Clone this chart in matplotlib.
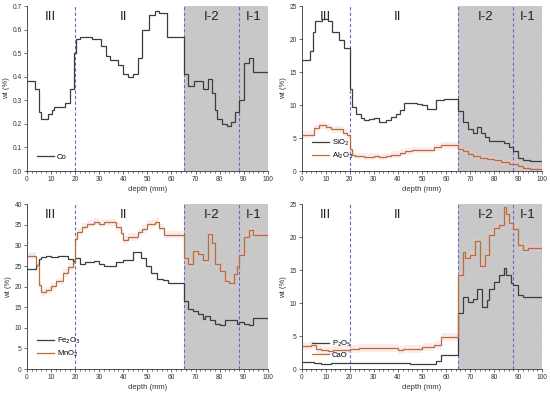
import numpy as np
import matplotlib
matplotlib.use('Agg')
import matplotlib.pyplot as plt

plt.rcParams['font.family'] = ['Liberation Sans', 'DejaVu Sans']

# step edges (depth, mm) and values (wt %)
co_edges = [0, 3.5, 5, 6, 9, 10.5, 11.5, 16, 18, 19.5, 20.5, 22, 27, 31, 33, 34.5, 38, 40, 42, 44,
            46, 48, 50.5, 53, 55, 58, 65, 67, 69.5, 73, 75, 77, 78, 79, 81, 83, 84.5, 86.5, 88, 90,
            92, 94, 100]
co_vals = [0.38, 0.35, 0.25, 0.22, 0.24, 0.26, 0.27, 0.29, 0.35, 0.50, 0.56, 0.57, 0.56, 0.53, 0.49,
           0.47, 0.45, 0.41, 0.40, 0.41, 0.48, 0.60, 0.66, 0.68, 0.67, 0.57, 0.41, 0.36, 0.38, 0.35,
           0.39, 0.33, 0.26, 0.22, 0.20, 0.19, 0.21, 0.25, 0.30, 0.46, 0.48, 0.42]

sio2_edges = [0, 3.3, 4.6, 5.5, 8.3, 11, 12.5, 15.6, 17.6, 20, 21, 22.5, 24.5, 26, 28, 30, 32, 35, 37,
              39, 41, 42.5, 48, 50, 52, 56, 59, 65, 67, 69, 71, 73, 74.5, 76, 78, 80, 84, 86, 88, 90,
              92, 95, 100]
sio2_vals = [16.9, 18.2, 21.0, 22.7, 23.0, 22.8, 21.0, 19.9, 18.6, 12.4, 9.7, 8.7, 8.1, 7.7, 7.9, 8.1,
             7.5, 7.7, 8.2, 8.6, 9.3, 10.3, 10.1, 10.0, 9.4, 10.7, 10.9, 9.1, 7.5, 6.3, 5.8, 6.6, 5.7,
             5.2, 4.6, 4.5, 4.2, 3.7, 3.0, 2.0, 1.6, 1.5]

al2o3_edges = [0, 5, 7, 10, 12, 17, 19, 20, 21, 22, 26, 30, 32, 35, 37, 41, 43, 46, 55, 58, 65, 67, 69,
               71, 74, 77, 80, 83, 86, 88, 90, 92, 95, 100]
al2o3_vals = [5.5, 6.5, 6.9, 6.6, 6.3, 5.8, 5.4, 3.4, 2.5, 2.3, 2.2, 2.3, 2.1, 2.3, 2.5, 2.8, 3.0, 3.2,
              3.6, 3.9, 3.4, 3.0, 2.6, 2.3, 2.0, 1.8, 1.6, 1.3, 1.1, 1.0, 0.7, 0.4, 0.3]

fe2o3_edges = [0, 4, 5, 6, 8, 10, 13, 17, 19, 20, 22, 24, 28, 30, 32, 37, 40, 44, 47.5, 49.5, 51.5, 54,
               56.5, 58.5, 65, 67, 69, 71, 73, 74, 76, 78, 80, 82, 87, 88, 90, 92, 94, 100]
fe2o3_vals = [24.3, 25.3, 26.8, 27.1, 27.5, 27.2, 27.5, 26.8, 26.2, 27.0, 25.5, 25.9, 26.2, 25.5, 24.9,
              26.0, 26.4, 28.4, 27.0, 25.1, 23.4, 21.8, 21.5, 20.8, 16.5, 14.6, 14.2, 13.3, 12.1, 12.8,
              12.0, 11.0, 10.6, 11.9, 11.0, 11.3, 10.9, 10.6, 12.4]

mno2_edges = [0, 4, 5, 6, 8, 10, 12, 15, 17, 19, 20, 21, 23, 25, 28, 30, 32, 37, 39, 40, 42, 46, 48, 50,
              53, 55, 57, 65, 67, 69, 71, 73, 75, 77, 78, 80, 82, 84, 86, 87, 88, 90, 92, 94, 100]
mno2_vals = [27.5, 25.2, 20.5, 18.6, 19.1, 20.1, 21.3, 23.3, 24.8, 26.0, 31.6, 33.3, 34.6, 35.3, 35.8,
             35.3, 35.6, 34.5, 33.1, 31.3, 32.1, 33.2, 34.0, 35.3, 35.8, 34.3, 32.6, 27.0, 25.4, 28.7,
             28.0, 26.4, 32.8, 30.6, 25.6, 23.8, 21.4, 20.9, 23.0, 25.1, 27.8, 32.0, 33.7, 32.6]

p2o5_edges = [0, 5, 8, 12, 20, 25, 35, 45, 56, 58, 65, 67, 69, 71, 73, 75, 77, 78, 80, 82, 84, 85, 87,
              88, 90, 92, 94, 100]
p2o5_vals = [1.0, 0.9, 0.8, 0.9, 0.95, 0.9, 0.9, 0.8, 1.2, 2.1, 8.5, 11.0, 10.2, 10.6, 12.1, 9.4, 10.5,
             12.1, 13.2, 14.2, 15.3, 14.2, 13.1, 12.7, 11.2, 11.0, 10.9]

cao_edges = [0, 4, 6, 8, 11, 13, 20, 24, 28, 35, 40, 42, 50, 55, 58, 65, 67, 68, 70, 72, 74, 76, 78, 80,
             82, 84, 85, 86, 88, 90, 92, 94, 100]
cao_vals = [3.5, 3.6, 3.1, 2.9, 2.7, 2.9, 3.1, 3.2, 3.25, 3.2, 2.9, 3.1, 3.3, 3.6, 4.9, 14.3, 17.8, 16.8,
            17.3, 19.4, 15.7, 17.3, 20.3, 21.4, 21.8, 24.6, 23.6, 22.1, 21.2, 18.8, 18.1, 18.4]

zone_names = ['III', 'II', 'I-2', 'I-1']
zone_x = [10, 40, 76.5, 94]
bounds = [20, 65, 88, 100]

dark = '#3c3c3c'
orange = '#b5703a'
pink = '#f4c4cf'

fig = plt.figure(figsize=(5.5, 3.95), dpi=100)
pos = [[0.0485, 0.567, 0.4387, 0.4177], [0.5485, 0.567, 0.4375, 0.4177],
       [0.0485, 0.0658, 0.4387, 0.417], [0.5485, 0.0658, 0.4375, 0.417]]

panels = [
    dict(ylim=(0, 0.7), yticks=np.arange(0, 0.71, 0.1), fmt='{:.1f}',
         series=[(co_edges, co_vals, dark, 'Co', None)]),
    dict(ylim=(0, 25), yticks=np.arange(0, 26, 5), fmt='{:.0f}',
         series=[(sio2_edges, sio2_vals, dark, 'SiO$_2$', None),
                 (al2o3_edges, al2o3_vals, orange, 'Al$_2$O$_3$', 0.5)]),
    dict(ylim=(0, 40), yticks=np.arange(0, 41, 5), fmt='{:.0f}',
         series=[(fe2o3_edges, fe2o3_vals, dark, 'Fe$_2$O$_3$', None),
                 (mno2_edges, mno2_vals, orange, 'MnO$_2$', 0.9)]),
    dict(ylim=(0, 25), yticks=np.arange(0, 26, 5), fmt='{:.0f}',
         series=[(p2o5_edges, p2o5_vals, dark, 'P$_2$O$_5$', None),
                 (cao_edges, cao_vals, orange, 'CaO', 0.6)]),
]

for p, cfg in zip(pos, panels):
    ax = fig.add_axes(p)
    ax.axvspan(65, 100, color='#c8c8c8', lw=0, zorder=0)
    for b in bounds:
        ax.axvline(b, color='#6a6ac8', lw=0.8, ls=(0, (3, 2)), zorder=1)
    for edges, vals, col, lab, band in cfg['series']:
        v = np.array(vals)
        if band:
            ax.stairs(v + band, edges, baseline=v - band, fill=True, color=pink,
                      alpha=0.35, lw=0, zorder=2)
        ax.stairs(v, edges, baseline=None, color=col, lw=0.9, label=lab, zorder=3)
    ymax = cfg['ylim'][1]
    for name, zx in zip(zone_names, zone_x):
        ax.text(zx, ymax * 0.935, name, ha='center', va='center', fontsize=9.5, color='#222222')
    ax.set_xlim(0, 100)
    ax.set_ylim(*cfg['ylim'])
    ax.set_xticks(np.arange(0, 101, 10))
    ax.set_xticks(np.arange(0, 101, 2), minor=True)
    ax.set_yticks(cfg['yticks'])
    ax.set_yticklabels([cfg['fmt'].format(t) for t in cfg['yticks']])
    ax.tick_params(labelsize=4.8, length=2, width=0.5, pad=1.5, colors='#333333')
    ax.tick_params(which='minor', length=1.2, width=0.4)
    ax.spines['top'].set_visible(False)
    ax.spines['right'].set_visible(False)
    for s in ['left', 'bottom']:
        ax.spines[s].set_linewidth(0.6)
        ax.spines[s].set_color('#333333')
    ax.set_xlabel('depth (mm)', fontsize=5.5, labelpad=2, color='#333333')
    ax.set_ylabel('wt (%)', fontsize=5.5, labelpad=2, color='#333333')
    ax.legend(loc='lower left', bbox_to_anchor=(0.02, 0.03), frameon=False, fontsize=5.5,
              handlelength=2.2, handletextpad=0.4, labelspacing=0.3, borderaxespad=0.3)

fig.savefig('out.png', dpi=100)
